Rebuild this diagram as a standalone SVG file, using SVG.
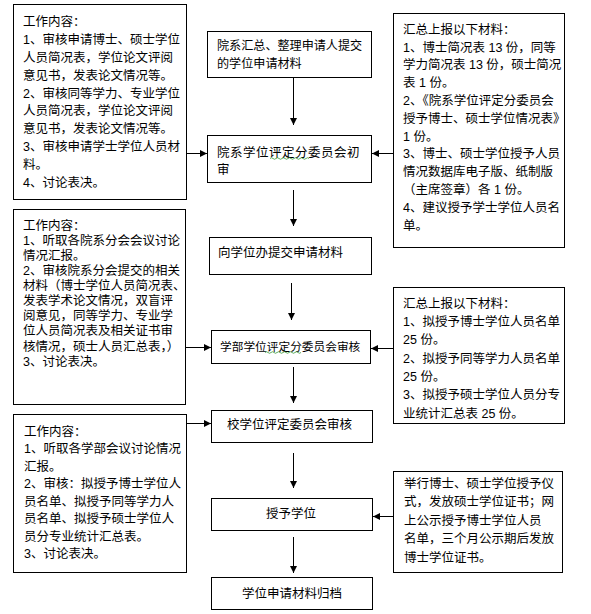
<svg xmlns="http://www.w3.org/2000/svg" width="591" height="614" viewBox="0 0 591 614">
<style>
rect.b{fill:#fff;stroke:#000;stroke-width:1}
text{font-family:"Liberation Sans","Noto Sans CJK SC",sans-serif;font-size:12.5px;fill:#000}
.c{stroke:#000;stroke-width:1;fill:none}
.w{stroke:#3a9a3a;stroke-width:0.8;fill:none}
</style>
<defs>
<marker id="ah" markerUnits="userSpaceOnUse" viewBox="0 0 7 7" refX="7" refY="3.5" markerWidth="7" markerHeight="7" orient="auto">
<path d="M0,0 L7,3.5 L0,7 Z" fill="#000"/>
</marker>
</defs>
<rect width="591" height="614" fill="#fff"/>

<g id="left1">
<rect class="b" x="13.5" y="4.5" width="173" height="195"/>
<text><tspan x="23" y="26.4">工作内容：</tspan><tspan x="23" y="44.2">1、审核申请博士、硕士学位</tspan><tspan x="23" y="62">人员简况表，学位论文评阅</tspan><tspan x="23" y="79.8">意见书，发表论文情况等。</tspan><tspan x="23" y="97.6">2、审核同等学力、专业学位</tspan><tspan x="23" y="115.4">人员简况表，学位论文评阅</tspan><tspan x="23" y="133.2">意见书，发表论文情况等。</tspan><tspan x="23" y="151">3、审核申请学士学位人员材</tspan><tspan x="23" y="168.8">料。</tspan><tspan x="23" y="186.6">4、讨论表决。</tspan></text>
</g>

<g id="left2">
<rect class="b" x="13.5" y="209.5" width="172" height="195"/>
<text><tspan x="23" y="229.7">工作内容：</tspan><tspan x="23" y="244.8">1、听取各院系分会会议讨论</tspan><tspan x="23" y="259.9">情况汇报。</tspan><tspan x="23" y="275">2、审核院系分会提交的相关</tspan><tspan x="23" y="290.1">材料（博士学位人员简况表、</tspan><tspan x="23" y="305.2">发表学术论文情况，双盲评</tspan><tspan x="23" y="320.3">阅意见，同等学力、专业学</tspan><tspan x="23" y="335.4">位人员简况表及相关证书审</tspan><tspan x="23" y="350.5">核情况，硕士人员汇总表，）</tspan><tspan x="23" y="365.6">3、讨论表决。</tspan></text>
</g>

<g id="left3">
<rect class="b" x="13.5" y="414.5" width="173" height="158"/>
<text><tspan x="24" y="435.7">工作内容：</tspan><tspan x="24" y="453.2">1、听取各学部会议讨论情况</tspan><tspan x="24" y="470.7">汇报。</tspan><tspan x="24" y="488.2">2、审核：拟授予博士学位人</tspan><tspan x="24" y="505.7">员名单、拟授予同等学力人</tspan><tspan x="24" y="523.2">员名单、拟授予硕士学位人</tspan><tspan x="24" y="540.7">员分专业统计汇总表。</tspan><tspan x="24" y="558.2">3、讨论表决。</tspan></text>
</g>

<g id="right1">
<rect class="b" x="393.5" y="13.5" width="171" height="234"/>
<text><tspan x="403" y="33.7">汇总上报以下材料：</tspan><tspan x="403" y="51.5">1、博士简况表 13 份，同等</tspan><tspan x="403" y="69.3">学力简况表 13 份，硕士简况</tspan><tspan x="403" y="87.1">表 1 份。</tspan><tspan x="403" y="104.9">2、《院系学位评定分委员会</tspan><tspan x="403" y="122.7">授予博士、硕士学位情况表》</tspan><tspan x="403" y="140.5">1 份。</tspan><tspan x="403" y="158.3">3、博士、硕士学位授予人员</tspan><tspan x="403" y="176.1">情况数据库电子版、纸制版</tspan><tspan x="403" y="193.9">（主席签章）各 1 份。</tspan><tspan x="403" y="211.7">4、建议授予学士学位人员名</tspan><tspan x="403" y="229.5">单。</tspan></text>
</g>

<g id="right2">
<rect class="b" x="393.5" y="287.5" width="171" height="136"/>
<text><tspan x="403" y="307.7">汇总上报以下材料：</tspan><tspan x="403" y="326">1、拟授予博士学位人员名单</tspan><tspan x="403" y="344.3">25 份。</tspan><tspan x="403" y="362.6">2、拟授予同等学力人员名单</tspan><tspan x="403" y="380.9">25 份。</tspan><tspan x="403" y="399.2">3、拟授予硕士学位人员分专</tspan><tspan x="403" y="417.5">业统计汇总表 25 份。</tspan></text>
</g>

<g id="right3">
<rect class="b" x="393.5" y="471.5" width="169" height="101"/>
<text><tspan x="404" y="487.7">举行博士、硕士学位授予仪</tspan><tspan x="404" y="506.2">式，发放硕士学位证书；网</tspan><tspan x="404" y="524.7">上公示授予博士学位人员</tspan><tspan x="404" y="543.2">名单，三个月公示期后发放</tspan><tspan x="404" y="561.7">博士学位证书。</tspan></text>
</g>

<g id="step1">
<rect class="b" x="207.5" y="31.5" width="164" height="46"/>
<text style="font-size:12.1px"><tspan x="217" y="49.7">院系汇总、整理申请人提交</tspan><tspan x="217" y="67.7">的学位申请材料</tspan></text>
</g>

<g id="step2">
<rect class="b" x="207.5" y="135.5" width="164" height="47"/>
<text><tspan x="217" y="156.7" letter-spacing="0.5">院系学位评定分委员会初</tspan><tspan x="217" y="173.7">审</tspan></text>
<path class="w" d="M270,158.5 q1.5,-1.5 3,0 t3,0 t3,0 t3,0 t3,0 t3,0 t3,0 t3,0 t3,0 t3,0 t3,0 t3,0 t3,0"/>
</g>

<g id="step3">
<rect class="b" x="209.5" y="237.5" width="162" height="37"/>
<text x="218" y="256.7">向学位办提交申请材料</text>
</g>

<g id="step4">
<rect class="b" x="211.5" y="330.5" width="159" height="33"/>
<text x="220" y="350.7" style="font-size:11.7px">学部学位评定分委员会审核</text>
<path class="w" d="M265,352.5 q1.5,-1.5 3,0 t3,0 t3,0 t3,0 t3,0 t3,0 t3,0 t3,0 t3,0 t3,0 t3,0 t3,0"/>
</g>

<g id="step5">
<rect class="b" x="211.5" y="410.5" width="161" height="32"/>
<text x="227" y="428.7">校学位评定委员会审核</text>
</g>

<g id="step6">
<rect class="b" x="211.5" y="498.5" width="161" height="32"/>
<text x="266" y="517.7">授予学位</text>
</g>

<g id="step7">
<rect class="b" x="211.5" y="577.5" width="161" height="32"/>
<text x="242" y="597.7">学位申请材料归档</text>
</g>

<g id="connectors">
<line class="c" x1="293.5" y1="78" x2="293.5" y2="125" marker-end="url(#ah)"/>
<line class="c" x1="293.5" y1="190" x2="293.5" y2="226" marker-end="url(#ah)"/>
<line class="c" x1="291.5" y1="283" x2="291.5" y2="320" marker-end="url(#ah)"/>
<line class="c" x1="293.5" y1="367" x2="293.5" y2="403" marker-end="url(#ah)"/>
<line class="c" x1="293.5" y1="453" x2="293.5" y2="488" marker-end="url(#ah)"/>
<line class="c" x1="293.5" y1="537" x2="293.5" y2="573" marker-end="url(#ah)"/>
<line class="c" x1="186" y1="153.5" x2="207" y2="153.5" marker-end="url(#ah)"/>
<line class="c" x1="393" y1="153.5" x2="372" y2="153.5" marker-end="url(#ah)"/>
<line class="c" x1="185" y1="347.5" x2="211" y2="347.5" marker-end="url(#ah)"/>
<line class="c" x1="393" y1="348.5" x2="371" y2="348.5" marker-end="url(#ah)"/>
<line class="c" x1="186" y1="423.5" x2="211" y2="423.5" marker-end="url(#ah)"/>
<line class="c" x1="393" y1="516.5" x2="373" y2="516.5" marker-end="url(#ah)"/>
</g>
</svg>
